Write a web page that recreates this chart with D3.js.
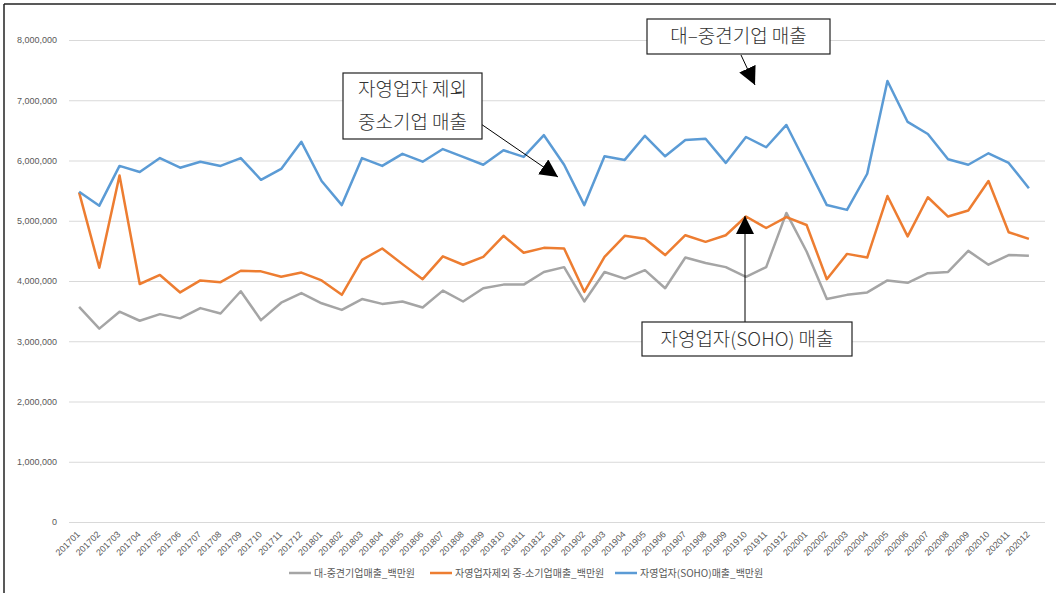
<!DOCTYPE html>
<html>
<head>
<meta charset="utf-8">
<script src="https://cdn.jsdelivr.net/npm/d3@7"></script>
<style>
  body { margin: 0; background: #fff; }
  svg { display: block; font-family: "Noto Sans CJK KR", "Noto Sans", sans-serif; }
</style>
</head>
<body>
<svg id="chart"></svg>
<script>
const months = ["201701","201702","201703","201704","201705","201706","201707","201708","201709","201710","201711","201712",
  "201801","201802","201803","201804","201805","201806","201807","201808","201809","201810","201811","201812",
  "201901","201902","201903","201904","201905","201906","201907","201908","201909","201910","201911","201912",
  "202001","202002","202003","202004","202005","202006","202007","202008","202009","202010","202011","202012"];

// 대-중견기업매출_백만원
const large = [3570000,3210000,3490000,3340000,3450000,3380000,3550000,3460000,3830000,3350000,3640000,3800000,
  3630000,3520000,3700000,3620000,3660000,3560000,3840000,3660000,3880000,3940000,3940000,4150000,
  4230000,3660000,4150000,4040000,4180000,3880000,4390000,4300000,4230000,4070000,4230000,5130000,
  4490000,3700000,3770000,3810000,4010000,3970000,4130000,4150000,4500000,4270000,4430000,4420000];

// 자영업자제외 중-소기업매출_백만원
const sme = [5470000,4220000,5750000,3950000,4100000,3810000,4010000,3980000,4170000,4160000,4070000,4140000,
  4010000,3770000,4350000,4540000,4280000,4030000,4410000,4270000,4400000,4750000,4470000,4550000,
  4540000,3820000,4400000,4750000,4700000,4430000,4760000,4650000,4760000,5070000,4880000,5060000,
  4930000,4030000,4450000,4390000,5410000,4740000,5390000,5070000,5170000,5660000,4810000,4700000];

// 자영업자(SOHO)매출_백만원
const soho = [5480000,5250000,5910000,5810000,6040000,5880000,5980000,5910000,6040000,5680000,5860000,6310000,
  5660000,5260000,6040000,5910000,6110000,5980000,6190000,6060000,5930000,6170000,6060000,6420000,
  5930000,5260000,6070000,6010000,6410000,6070000,6340000,6360000,5960000,6390000,6220000,6590000,
  5930000,5260000,5180000,5780000,7320000,6640000,6440000,6020000,5930000,6120000,5960000,5540000];

const yTicks = [0,1000000,2000000,3000000,4000000,5000000,6000000,7000000,8000000];

const series = [
  {name: "대-중견기업매출_백만원", values: large, color: "#a5a5a5"},
  {name: "자영업자제외 중-소기업매출_백만원", values: sme, color: "#ed7d31"},
  {name: "자영업자(SOHO)매출_백만원", values: soho, color: "#5b9bd5"}
];

const width = 1056, height = 593;
const svg = d3.select("#chart").attr("width", width).attr("height", height);

const x = d3.scalePoint().domain(months).range([69, 1039]).padding(0.5);
const y = d3.scaleLinear().domain([0, 8000000]).range([522, 40]);

// frame
svg.append("line").attr("x1", 4).attr("x2", 4).attr("y1", 4).attr("y2", height).attr("stroke", "#222").attr("stroke-width", 1.5);
svg.append("line").attr("x1", 4).attr("x2", width).attr("y1", 4).attr("y2", 4).attr("stroke", "#222").attr("stroke-width", 1.5);

// y axis with gridlines
const yAxis = svg.append("g")
  .attr("transform", "translate(69,0)")
  .call(d3.axisLeft(y).tickValues(yTicks).tickSize(-976).tickPadding(12).tickFormat(d3.format(",")));
yAxis.select(".domain").remove();
yAxis.selectAll("line").attr("stroke", "#d9d9d9");
yAxis.selectAll("text").attr("fill", "#595959").style("font-size", "9px");

// x axis
const xAxis = svg.append("g")
  .attr("transform", "translate(0,522)")
  .call(d3.axisBottom(x).tickSize(0).tickPadding(0));
xAxis.select(".domain").attr("stroke", "#d9d9d9");
xAxis.selectAll("text")
  .attr("fill", "#595959")
  .style("font-size", "9px")
  .attr("text-anchor", "end")
  .attr("dy", 0)
  .attr("transform", "translate(1,13) rotate(-45)");

// lines
const line = d3.line().x((d, i) => x(months[i])).y(d => y(d));
svg.append("g")
  .selectAll("path")
  .data(series)
  .join("path")
  .attr("d", d => line(d.values))
  .attr("fill", "none")
  .attr("stroke", d => d.color)
  .attr("stroke-width", 2.5)
  .attr("stroke-linejoin", "round");

// legend
const legX = [289, 430, 615];
const leg = svg.append("g").selectAll("g").data(series).join("g")
  .attr("transform", (d, i) => `translate(${legX[i]},573)`);
leg.append("line").attr("x1", 0).attr("x2", 22).attr("stroke", d => d.color).attr("stroke-width", 2.5);
leg.append("text").attr("x", 25).attr("dy", "0.35em")
  .attr("fill", "#595959").style("font-size", "10px")
  .text(d => d.name);

// callouts
const defs = svg.append("defs");
defs.append("marker").attr("id", "arr")
  .attr("viewBox", "0 0 10 10").attr("refX", 10).attr("refY", 5)
  .attr("markerWidth", 18).attr("markerHeight", 18).attr("markerUnits", "userSpaceOnUse")
  .attr("orient", "auto")
  .append("path").attr("d", "M0,0 L10,5 L0,10 Z").attr("fill", "#000");

function callout(bx, by, bw, bh, lines, from, to) {
  svg.append("line").attr("x1", from[0]).attr("y1", from[1]).attr("x2", to[0]).attr("y2", to[1])
    .attr("stroke", "#000").attr("stroke-width", 1).attr("marker-end", "url(#arr)");
  svg.append("rect").attr("x", bx).attr("y", by).attr("width", bw).attr("height", bh)
    .attr("fill", "#fff").attr("stroke", "#222").attr("stroke-width", 1.2);
  const t = svg.append("text").attr("text-anchor", "middle").attr("fill", "#333")
    .style("font-size", "19px").style("font-weight", 300);
  const lh = bh / lines.length;
  lines.forEach((s, i) => {
    t.append("tspan").attr("x", bx + bw / 2).attr("y", by + lh * (i + 0.5)).attr("dy", "0.36em").text(s);
  });
}

callout(343, 73, 139, 66, ["자영업자 제외", "중소기업 매출"], [481, 124], [558, 177]);
callout(647, 19, 183, 35, ["대–중견기업 매출"], [741, 55], [755, 85]);
callout(642, 322, 210, 34, ["자영업자(SOHO) 매출"], [745, 322], [745, 216]);
</script>
</body>
</html>
